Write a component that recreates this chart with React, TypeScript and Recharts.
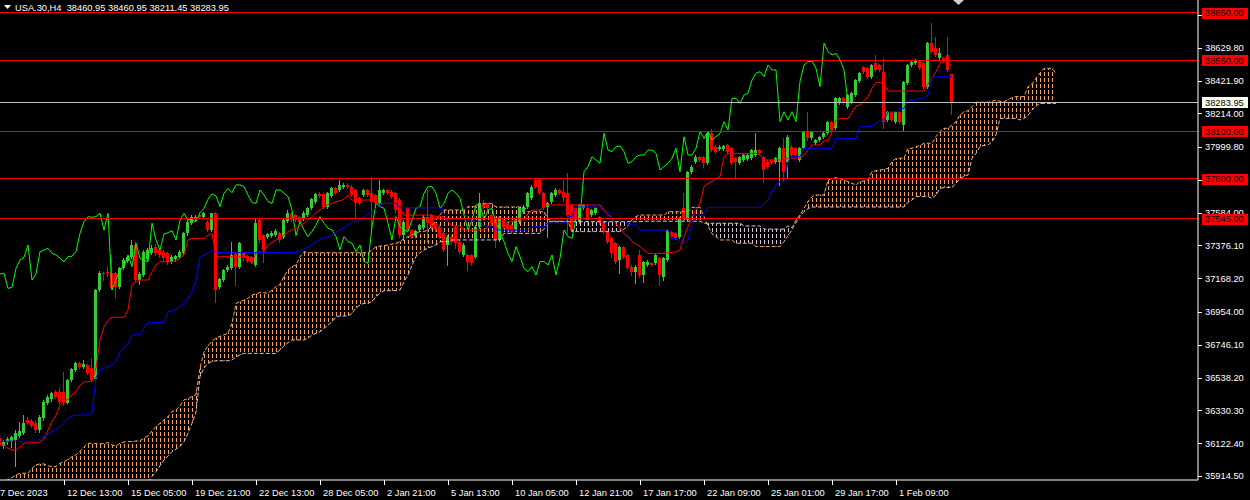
import React from 'react';
import { ComposedChart, XAxis, YAxis, Bar, Line, Area, ReferenceLine } from 'recharts';

// repeat one read value n times (flat steps of the indicator lines)
const flat = (v: number, n: number): number[] => Array(n).fill(v);

const opens = [
  36154, 36105, 36128, 36135, 36143, 36170, 36190, 36270, 36265, 36253,
  36206, 36280, 36380, 36400, 36449, 36449, 36449, 36380, 36523, 36587,
  36629, 36608, 36618, 36597, 36530, 37094, 37204, 37206, 37200, 37204,
  37111, 37231, 37280, 37301, 37379, 37157, 37189, 37288, 37326, 37369,
  37347, 37337, 37326, 37273, 37288, 37301, 37326, 37453, 37516, 37545,
  37570, 37559, 37527, 37474, 37580, 37115, 37157, 37221, 37231, 37322,
  37242, 37326, 37309, 37305, 37252, 37538, 37443, 37432, 37436, 37443,
  37453, 37432, 37533, 37576, 37569, 37559, 37548, 37569, 37612, 37654,
  37702, 37702, 37622, 37690, 37738, 37728, 37749, 37760, 37749, 37728,
  37675, 37696, 37728, 37707, 37696, 37643, 37707, 37728, 37717, 37707,
  37664, 37440, 37612, 37474, 37436, 37474, 37485, 37559, 37569, 37517,
  37495, 37453, 37379, 37432, 37495, 37400, 37316, 37316, 37316, 37305,
  37495, 37643, 37637, 37569, 37548, 37411, 37538, 37517, 37506, 37474,
  37527, 37591, 37622, 37675, 37791, 37791, 37707, 37622, 37654, 37696,
  37728, 37718, 37707, 37633, 37612, 37527, 37612, 37612, 37569, 37584,
  37559, 37517, 37464, 37421, 37390, 37284, 37369, 37316, 37242, 37210,
  37316, 37189, 37252, 37263, 37263, 37295, 37179, 37284, 37464, 37453,
  37432, 37612, 37538, 37844, 37908, 37939, 37939, 37897, 38087, 38003,
  37986, 37986, 38013, 37992, 37929, 37897, 37918, 37922, 37929, 37950,
  37981, 37939, 37908, 37918, 37908, 37908, 37992, 37908, 38003, 37992,
  37918, 37992, 38098, 38055, 38024, 38045, 38066, 38087, 38161, 38119,
  38277, 38309, 38256, 38288, 38330, 38420, 38510, 38499, 38446, 38531,
  38520, 38478, 38172, 38224, 38161, 38224, 38140, 38404, 38520, 38531,
  38541, 38531, 38383, 38658, 38626, 38563, 38567, 38584, 38460.95,
];

const highs = [
  36164, 36143, 36160, 36170, 36206, 36255, 36300, 36290, 36275, 36262,
  36300, 36395, 36430, 36450, 36460, 36471, 36576, 36530, 36600, 36640,
  36640, 36650, 36625, 36661, 37100, 37215, 37210, 37245, 37316, 37211,
  37240, 37295, 37310, 37410, 37400, 37210, 37345, 37360, 37380, 37385,
  37360, 37345, 37335, 37315, 37318, 37345, 37460, 37535, 37570, 37570,
  37580, 37590, 37535, 37585, 37590, 37170, 37230, 37250, 37400, 37330,
  37400, 37335, 37318, 37312, 37542, 37545, 37450, 37458, 37465, 37478,
  37460, 37545, 37600, 37590, 37578, 37566, 37592, 37620, 37676, 37710,
  37712, 37710, 37715, 37745, 37745, 37790, 37770, 37770, 37758, 37735,
  37682, 37735, 37735, 37812, 37705, 37791, 37735, 37735, 37725, 37715,
  37680, 37540, 37622, 37480, 37475, 37515, 37570, 37728, 37578, 37525,
  37505, 37460, 37440, 37440, 37505, 37410, 37390, 37325, 37325, 37505,
  37707, 37664, 37645, 37578, 37555, 37566, 37545, 37525, 37512, 37545,
  37620, 37630, 37715, 37760, 37800, 37798, 37715, 37650, 37715, 37738,
  37735, 37791, 37834, 37640, 37620, 37640, 37640, 37633, 37610, 37620,
  37566, 37525, 37470, 37428, 37395, 37375, 37375, 37322, 37250, 37250,
  37348, 37280, 37282, 37270, 37322, 37302, 37302, 37480, 37470, 37460,
  37555, 37707, 37850, 37884, 37950, 37945, 37945, 38095, 38112, 38010,
  38012, 38014, 38020, 38000, 37936, 37946, 37958, 37958, 37990, 38087,
  37990, 37946, 37915, 37925, 37936, 38000, 38055, 38075, 38010, 38000,
  38000, 38105, 38224, 38105, 38052, 38073, 38094, 38168, 38168, 38316,
  38316, 38316, 38336, 38348, 38432, 38475, 38517, 38506, 38527, 38584,
  38527, 38563, 38231, 38231, 38231, 38231, 38422, 38527, 38548, 38558,
  38548, 38538, 38665, 38784, 38700, 38626, 38574, 38700, 38460.95,
];

const lows = [
  36090, 36095, 36120, 36101, 35975, 36160, 36180, 36245, 36225, 36195,
  36195, 36270, 36370, 36390, 36410, 36380, 36365, 36375, 36515, 36580,
  36600, 36600, 36560, 36515, 36525, 37085, 37157, 37180, 37100, 37052,
  37105, 37225, 37270, 37295, 37150, 37130, 37180, 37280, 37320, 37315,
  37300, 37285, 37260, 37265, 37280, 37295, 37320, 37445, 37510, 37540,
  37550, 37550, 37465, 37470, 37020, 37105, 37150, 37215, 37225, 37126,
  37235, 37285, 37270, 37265, 37245, 37400, 37269, 37425, 37430, 37438,
  37400, 37425, 37527, 37530, 37530, 37520, 37540, 37560, 37605, 37648,
  37684, 37615, 37615, 37684, 37705, 37722, 37742, 37740, 37690, 37548,
  37636, 37690, 37690, 37464, 37636, 37636, 37700, 37700, 37680, 37590,
  37430, 37411, 37465, 37425, 37428, 37468, 37478, 37400, 37478, 37468,
  37425, 37340, 37252, 37392, 37360, 37330, 37308, 37221, 37255, 37298,
  37488, 37612, 37605, 37510, 37369, 37404, 37488, 37468, 37458, 37468,
  37520, 37585, 37615, 37668, 37742, 37700, 37605, 37432, 37648, 37690,
  37700, 37660, 37453, 37465, 37530, 37520, 37605, 37506, 37562, 37578,
  37510, 37458, 37393, 37305, 37266, 37200, 37298, 37225, 37189, 37136,
  37179, 37147, 37245, 37245, 37256, 37126, 37157, 37278, 37425, 37414,
  37425, 37540, 37530, 37838, 37900, 37912, 37876, 37890, 37975, 37965,
  37980, 37980, 37965, 37890, 37802, 37890, 37912, 37915, 37922, 37944,
  37954, 37781, 37868, 37890, 37900, 37760, 37791, 37802, 37944, 37944,
  37910, 37985, 38045, 38048, 38018, 38040, 38060, 38080, 38100, 38112,
  38270, 38270, 38245, 38282, 38324, 38414, 38471, 38440, 38440, 38482,
  38482, 38119, 38165, 38165, 38155, 38155, 38108, 38398, 38514, 38525,
  38492, 38376, 38376, 38598, 38577, 38556, 38545, 38482, 38211.45,
];

const closes = [
  36111, 36132, 36150, 36160, 36185, 36200, 36250, 36253, 36232, 36206,
  36291, 36386, 36418, 36439, 36418, 36386, 36376, 36523, 36591, 36629,
  36608, 36625, 36566, 36523, 37094, 37204, 37195, 37200, 37104, 37111,
  37231, 37284, 37301, 37379, 37157, 37195, 37337, 37347, 37358, 37326,
  37316, 37295, 37273, 37305, 37308, 37337, 37453, 37527, 37559, 37555,
  37559, 37580, 37474, 37580, 37094, 37161, 37221, 37242, 37316, 37242,
  37390, 37295, 37280, 37274, 37517, 37411, 37347, 37449, 37457, 37470,
  37411, 37538, 37580, 37538, 37538, 37527, 37584, 37612, 37669, 37702,
  37690, 37622, 37707, 37738, 37711, 37760, 37760, 37749, 37696, 37648,
  37643, 37728, 37696, 37654, 37643, 37728, 37728, 37707, 37686, 37601,
  37440, 37527, 37474, 37432, 37466, 37506, 37559, 37517, 37485, 37474,
  37432, 37348, 37432, 37400, 37390, 37337, 37379, 37274, 37263, 37495,
  37643, 37622, 37612, 37517, 37411, 37559, 37495, 37474, 37464, 37538,
  37612, 37622, 37707, 37749, 37749, 37707, 37612, 37643, 37707, 37728,
  37707, 37675, 37569, 37474, 37538, 37633, 37633, 37538, 37601, 37612,
  37517, 37464, 37400, 37326, 37274, 37369, 37305, 37231, 37210, 37242,
  37189, 37274, 37274, 37252, 37316, 37189, 37295, 37474, 37432, 37421,
  37548, 37548, 37844, 37876, 37939, 37918, 37897, 38087, 37981, 37971,
  38003, 38007, 37971, 37897, 37908, 37939, 37950, 37950, 37981, 37981,
  37960, 37855, 37876, 37897, 37929, 37992, 37844, 38066, 37950, 37950,
  37992, 38098, 38055, 38098, 38045, 38066, 38087, 38161, 38108, 38309,
  38309, 38277, 38330, 38341, 38425, 38468, 38478, 38446, 38520, 38489,
  38489, 38161, 38224, 38172, 38224, 38161, 38415, 38520, 38541, 38545,
  38499, 38383, 38658, 38605, 38584, 38594, 38552, 38489, 38283.95,
];

// Tenkan-sen (red)
const tenkan = [
  36125, 36110, 36090, 36078, 36078, 36100, 36122, 36125, 36125, 36125,
  36130, 36150, 36206, 36260, 36300, 36365, 36390, 36400, 36430, 36450,
  36490, 36510, 36515, 36515, 36600, 36777, 36861, 36900, 36921, 36921,
  36921, 36921, 36967, 37126, 37147, 37157, 37157, 37157, 37210, 37252,
  37273, 37273, 37273, 37273, 37280, 37295, 37316, 37411, 37421, 37421,
  37421, 37421, 37440, 37453, ...flat(37305, 9), 37260, 37334, 37334, 37334, 37379, 37395, 37411,
  37425, 37443, 37464, 37475, 37485, 37500, 37517, 37538, 37559, 37584,
  37600, 37622, 37635, 37643, 37654, 37660, 37669, 37696, ...flat(37664, 6), ...flat(37643, 6),
  37612, ...flat(37569, 8), 37559,
  37559, 37559, 37527, 37500, 37500, 37500, ...flat(37474, 6),
  37495, 37510, 37510, ...flat(37527, 4), 37538,
  37538, 37538, 37580, 37601, 37601, 37601, ...flat(37633, 15),
  37600, 37570, 37548, 37515, 37485, 37450, 37432, 37400, 37385,
  37369, 37345, ...flat(37326, 5), 37330, 37332, 37335,
  37348, 37432, 37495, 37560, 37600, 37643, 37749, 37770, 37781, 37800,
  37812, 37939, ...flat(37960, 8),
  37950, ...flat(37918, 5), 37915, 37929, 37929, 37929,
  37929, 37950, 37982, 38013, 38013, 38013, 38040, 38040, 38100, 38172,
  38182, 38182, 38182, 38220, 38260, 38267, 38290, 38320, 38372, 38410,
  38410, 38395, ...flat(38355, 10), 38400, 38440, 38478, 38531, 38540, 38540, 38510,
];

// Kijun-sen (blue)
const kijun = [
  ...flat(36135, 10),
  36150, 36164, 36180, 36196, 36210, 36228, 36255, 36280, 36295, 36301,
  36301, 36301, 36301, 36312, 36540, 36587, 36597, 36610, 36618, 36640,
  36703, 36730, 36756, 36809, 36809, 36809, 36851, 36887, 36887, 36887,
  36887, 36887, 36957, 36962, 36967, 36990, 37009, 37041, 37083, 37157,
  37305, 37315, 37326, 37347, ...flat(37331, 21),
  37340, 37355, 37364, 37380, 37400,
  37415, 37421, 37432, 37443, 37460, 37474, 37490, 37506, 37527, 37527,
  37540, 37559, 37575, 37590, 37612, 37633, 37643, 37643, 37643, 37643,
  ...flat(37615, 11), 37580, ...flat(37540, 6), ...flat(37530, 3),
  37500, 37500, 37500, ...flat(37474, 9), ...flat(37495, 4), ...flat(37517, 5),
  37560, 37560, ...flat(37620, 7), 37590, 37590, ...flat(37548, 4), ...flat(37506, 3),
  ...flat(37474, 8), 37420, 37420, 37390, 37390, 37411, 37517, 37569, 37569, 37569,
  ...flat(37618, 14), 37640, 37664, 37720, 37760, 37781, 37781, 37908, 37939, 37939,
  37939, ...flat(37992, 8), ...flat(38055, 6), ...flat(38129, 4), 38150,
  38172, 38172, 38224, 38224, 38224, 38245, 38245, 38298, 38298, 38298,
  38310, 38310, 38330, 38440, ...flat(38446, 5),
];

// Senkou span A (sandy brown edge), already shifted 26 bars forward
const spanA = [
  35880, 35880, 35890, 35905, 35921, 35932, 35932, 35932, 35963, 35985,
  35991, 35991, 35980, 35974, 35974, 35995, 36006, 36020, 36037, 36048,
  36070, 36100, 36122, 36122, 36120, 36118, 36122, 36126, 36111, 36105,
  36122, 36130, 36133, 36133, 36136, 36139, 36154, 36170, 36200, 36228,
  36249, 36270, 36291, 36323, 36333, 36360, 36397, 36405, 36418, 36430,
  36600, 36700, 36740, 36770, 36790, 36800, 36810, 36819, 36883, 37009,
  37020, 37030, 37041, 37062, 37070, 37077, 37077, 37073, 37094, 37115,
  37130, 37180, 37221, 37242, 37252, 37305, 37337, ...flat(37330, 16),
  37347, 37369, 37372, 37375, 37379, 37385, 37390,
  37400, 37420, 37432, 37445, 37453, 37465, 37465, 37474, 37500, 37538,
  37570, ...flat(37601, 6), 37622, 37622, 37622,
  37622, 37643, 37643, 37643, ...flat(37620, 8), ...flat(37590, 5),
  37545, ...flat(37530, 5), ...flat(37464, 13),
  37480, 37500, 37540, 37560, ...flat(37569, 7), ...flat(37590, 6),
  37618, 37618, 37618, 37560, 37500, 37450, 37432,
  37411, 37411, 37411, 37411, ...flat(37390, 5), ...flat(37369, 7),
  37400, 37440, 37474, 37540,
  37569, 37612, 37654, 37686, 37696, 37696, 37696, 37790, 37802, 37806,
  37800, 37791, 37781, 37770, 37760, 37781, 37785, 37791, 37844, 37850,
  37855, 37860, 37865, 37908, 37929, 37929, 37929, 37992, 37992, 38003,
  38010, 38024, 38024, 38024, 38066, 38100, 38119, 38119, 38140, 38161,
  38203, 38224, 38230, 38256, 38284, 38284, 38284, 38284, 38290, 38298,
  38290, 38288, 38300, 38313, 38320, 38320, 38320, 38383, 38400, 38436,
  38470, 38499, 38499, 38499, 38468,
];

// Senkou span B (thistle edge)
const spanB = [
  ...flat(35850, 31), ...flat(35870, 7), 35911, 35942,
  35980, 36016, 36040, 36069, 36085, 36101, 36133, 36185, 36249, 36320,
  36545, 36600, 36629, 36640, 36645, 36645, 36645, 36645, 36650, 36671,
  36682, ...flat(36692, 9),
  36714, 36740, 36760, 36777, 36777, 36777, 36777, 36788, 36809, 36819,
  36830, 36851, 36870, 36893, 36925, 36929, 36929, 36929, 36946, 36980,
  36999, 37009, 37009, 37020, 37052, 37073, 37090, 37090, 37090, 37090,
  37094, 37147, 37189, 37250, 37305, 37330, 37347, 37360, 37369, 37379,
  37400, 37400, 37400, ...flat(37411, 13), ...flat(37453, 10), 37480,
  ...flat(37527, 24), ...flat(37530, 15), ...flat(37517, 10), ...flat(37500, 5),
  ...flat(37480, 6), 37500, 37490, 37520,
  37560, 37591, 37610, ...flat(37620, 24), 37650, 37665, 37686,
  37686, 37686, 37686, 37675, 37696, 37738, 37743, 37743, 37743, 37770,
  37802, 37815, 37823, 37929, 37960, 38003, 38010, 38013, 38034, 38077,
  ...flat(38182, 5), 38172, 38182, 38200, 38235, 38260,
  ...flat(38277, 5),
];

const timeBars = [0, 16, 32, 48, 64, 80, 96, 112, 128, 144, 160, 176, 192, 208, 224];
const timeLabels = [
  '7 Dec 2023', '12 Dec 13:00', '15 Dec 05:00', '19 Dec 21:00', '22 Dec 13:00',
  '28 Dec 05:00', '2 Jan 21:00', '5 Jan 13:00', '10 Jan 05:00', '12 Jan 21:00',
  '17 Jan 17:00', '22 Jan 09:00', '25 Jan 01:00', '29 Jan 17:00', '1 Feb 09:00',
];

const priceTicks = [
  35914.5, 36122.4, 36330.3, 36538.2, 36746.1, 36954.0, 37168.2, 37376.1,
  37584.0, 37791.9, 37999.8, 38214.0, 38421.9, 38629.8, 38837.7,
];
const levels = [38850, 38550, 38100, 37800, 37545];
const lastPrice = 38283.95;
const title = 'USA.30,H4  38460.95 38460.95 38211.45 38283.95';

const GREEN = '#32CD32';
const RED = '#FF0000';
const SANDY = '#F4A460';
const THISTLE = '#D8BFD8';
const FONT = "'Liberation Sans', Arial, sans-serif";
const SLOTS = 300;

const data = Array.from({ length: SLOTS }, (_, i) => ({
  i,
  o: opens[i],
  h: highs[i],
  l: lows[i],
  c: closes[i],
  tenkan: tenkan[i],
  kijun: kijun[i],
  chikou: closes[i + 26],
  a: spanA[i],
  b: spanB[i],
}));

function Candle(props: any) {
  const { x, y, width, height, payload } = props;
  if (!payload || payload.h == null || !Number.isFinite(y)) return null;
  const top = Math.min(y, y + height);
  const bot = Math.max(y, y + height);
  const span = payload.h - payload.l;
  const at = (v: number) => (span > 0 ? top + ((payload.h - v) / span) * (bot - top) : top);
  const col = payload.c >= payload.o ? GREEN : RED;
  const cx = Math.floor(x + width / 2);
  const bt = Math.round(at(Math.max(payload.o, payload.c)));
  const bb = Math.round(at(Math.min(payload.o, payload.c)));
  return (
    <g shapeRendering="crispEdges">
      <line x1={cx + 0.5} x2={cx + 0.5} y1={Math.round(top)} y2={Math.round(bot) + 1} stroke={col} />
      <rect x={cx - 1} y={bt} width={3} height={Math.max(1, bb - bt)} fill={col} />
    </g>
  );
}

function TimeTick(props: any) {
  const { x, y, payload } = props;
  const k = timeBars.indexOf(payload.value);
  if (k < 0) return null;
  if (k === 0) {
    return (
      <text x={x} y={y + 8.5} fill="#FFFFFF" fontSize={9.3} fontFamily={FONT}>
        {timeLabels[k]}
      </text>
    );
  }
  const tx = Math.floor(x) + 0.5;
  return (
    <g>
      <line x1={tx} x2={tx} y1={y - 7} y2={y - 2} stroke="#FFFFFF" shapeRendering="crispEdges" />
      <text x={x + 3} y={y + 8.5} fill="#FFFFFF" fontSize={9.3} fontFamily={FONT}>
        {timeLabels[k]}
      </text>
    </g>
  );
}

function PriceTick(props: any) {
  const { x, y, payload } = props;
  const v = payload.value;
  const isLevel = levels.includes(v);
  const isLast = v === lastPrice;
  if (isLevel || isLast) {
    return (
      <g>
        <rect x={x - 3} y={Math.round(y) - 5} width={46} height={11} fill={isLast ? '#FFFFF0' : RED} shapeRendering="crispEdges" />
        <text x={x} y={y + 3.4} fill="#000000" fontSize={9.3} fontFamily={FONT}>
          {v.toFixed(2)}
        </text>
      </g>
    );
  }
  const ty = Math.round(y) + 0.5;
  return (
    <g>
      <line x1={x - 7} x2={x - 3} y1={ty} y2={ty} stroke="#FFFFFF" shapeRendering="crispEdges" />
      <text x={x} y={y + 3.4} fill="#FFFFFF" fontSize={9.3} fontFamily={FONT}>
        {v.toFixed(2)}
      </text>
    </g>
  );
}

const bullCloud = (d: any) => (d.a != null && d.a >= d.b ? [d.b, d.a] : null);
const bearCloud = (d: any) => (d.a != null && d.a < d.b ? [d.a, d.b] : null);
const candleRange = (d: any) => (d.h != null ? [d.l, d.h] : undefined);

export default function App() {
  return (
    <div style={{ position: 'fixed', left: 0, top: 0, width: 1250, height: 500, overflow: 'hidden', background: '#000000' }}>
      <div style={{ position: 'absolute', left: -2, top: 0 }}>
        <ComposedChart width={1252} height={500} data={data} margin={{ top: 0, right: 0, bottom: 0, left: 0 }}>
          <defs>
            <pattern id="cloudBull" x="0" y="0" width="4" height="6" patternUnits="userSpaceOnUse">
              <rect x="2" y="0" width="1" height="4" fill={SANDY} />
            </pattern>
            <pattern id="cloudBear" x="0" y="0" width="4" height="6" patternUnits="userSpaceOnUse">
              <rect x="2" y="0" width="1" height="4" fill={THISTLE} />
            </pattern>
          </defs>
          <XAxis
            dataKey="i"
            type="category"
            height={20}
            interval={0}
            tickSize={5}
            tickMargin={2}
            tickLine={false}
            axisLine={{ stroke: '#FFFFFF' }}
            tick={<TimeTick />}
          />
          <YAxis
            orientation="right"
            type="number"
            width={52}
            domain={[35889.2, 38932.4]}
            allowDataOverflow
            ticks={[...priceTicks, ...levels, lastPrice]}
            interval={0}
            tickSize={4}
            tickMargin={3}
            tickLine={false}
            axisLine={{ stroke: '#FFFFFF' }}
            tick={<PriceTick />}
          />
          <Bar dataKey={candleRange} barSize={4} shape={<Candle />} isAnimationActive={false} />
          <Area dataKey={bullCloud} type="linear" stroke="none" fill="url(#cloudBull)" fillOpacity={1} dot={false} activeDot={false} isAnimationActive={false} />
          <Area dataKey={bearCloud} type="linear" stroke="none" fill="url(#cloudBear)" fillOpacity={1} dot={false} activeDot={false} isAnimationActive={false} />
          <Line dataKey="a" stroke={SANDY} strokeDasharray="4 2" dot={false} activeDot={false} isAnimationActive={false} type="linear" />
          <Line dataKey="b" stroke={THISTLE} strokeDasharray="4 2" dot={false} activeDot={false} isAnimationActive={false} type="linear" />
          <Line dataKey="chikou" stroke="#00FF00" dot={false} activeDot={false} isAnimationActive={false} type="linear" />
          <Line dataKey="tenkan" stroke={RED} dot={false} activeDot={false} isAnimationActive={false} type="linear" />
          <Line dataKey="kijun" stroke="#0000FF" dot={false} activeDot={false} isAnimationActive={false} type="linear" />
          {levels.map((lv) => (
            <ReferenceLine key={lv} y={lv} stroke={RED} shapeRendering="crispEdges" />
          ))}
          <ReferenceLine y={lastPrice} stroke="#C0C0C0" shapeRendering="crispEdges" />
        </ComposedChart>
      </div>
      <svg width={1250} height={500} style={{ position: 'absolute', left: 0, top: 0, pointerEvents: 'none' }}>
        <polygon points="4,5 11,5 7.5,9" fill="#FFFFFF" />
        <text x={15} y={10.5} fill="#FFFFFF" fontSize={9.3} fontFamily={FONT} style={{ whiteSpace: 'pre' }}>
          {title}
        </text>
        <polygon points="953,0 964,0 958.5,5" fill="#D0D0D0" />
      </svg>
    </div>
  );
}
